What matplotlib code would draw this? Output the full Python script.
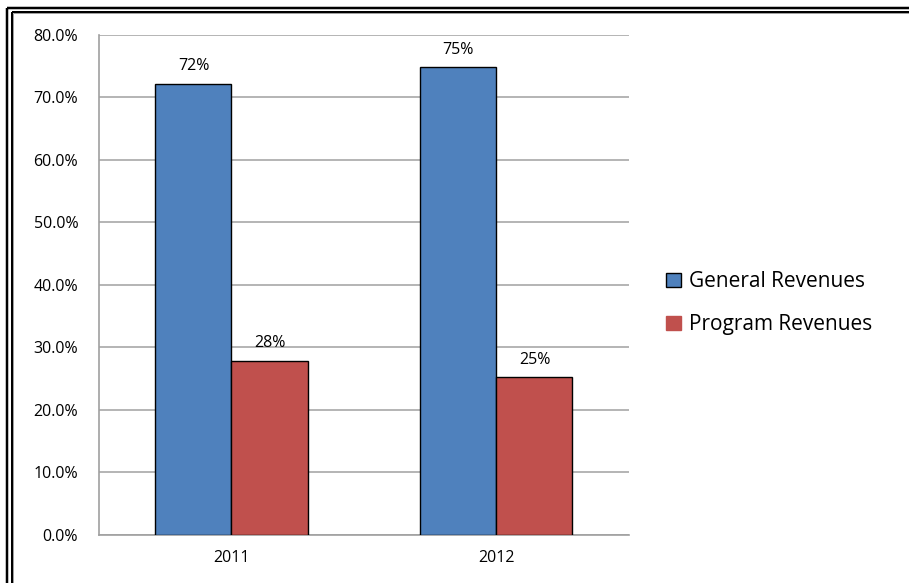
import matplotlib.pyplot as plt
import matplotlib.patches as mpatches
from matplotlib.lines import Line2D
import numpy as np

plt.rcParams['font.family'] = ['Open Sans', 'DejaVu Sans']

years = ['2011', '2012']
general = [72.2, 74.8]
program = [27.8, 25.2]
series_names = ['General Revenues', 'Program Revenues']
colors = ['#4f81bd', '#c0504d']

fig = plt.figure(figsize=(9.09, 5.83), dpi=100)
ax = fig.add_axes([0.1089, 0.0823, 0.583, 0.858])

x = np.arange(len(years))
w = 0.287
bars_g = ax.bar(x - w / 2, general, w, color=colors[0], edgecolor='black', linewidth=1, zorder=3)
bars_p = ax.bar(x + w / 2, program, w, color=colors[1], edgecolor='black', linewidth=1, zorder=3)

# value labels above each bar
for bars, vals in [(bars_g, general), (bars_p, program)]:
    for b, v in zip(bars, vals):
        ax.annotate(f'{v:.0f}%', (b.get_x() + b.get_width() / 2, v),
                    xytext=(0, 7), textcoords='offset points',
                    ha='center', va='bottom', fontsize=11.5)

ax.set_xlim(-0.5, 1.5)
ax.set_ylim(0, 80)
ax.set_yticks(np.arange(0, 81, 10))
ax.set_yticklabels([f'{t:.1f}%' for t in range(0, 81, 10)], fontsize=11.5)
ax.set_xticks(x)
ax.set_xticklabels(years, fontsize=11.5)
ax.tick_params(length=0, pad=15)
ax.tick_params(axis='x', pad=11)
ax.yaxis.grid(True, color='#a0a0a0', linewidth=1.1, zorder=0)
for s in ['top', 'right']:
    ax.spines[s].set_visible(False)
for s in ['left', 'bottom']:
    ax.spines[s].set_color('#a0a0a0')
    ax.spines[s].set_linewidth(1.2)

handles = [mpatches.Patch(facecolor=colors[0], edgecolor='black', linewidth=1),
           mpatches.Patch(facecolor=colors[1], edgecolor=colors[1], linewidth=1)]
fig.legend(handles, series_names, loc='center left', bbox_to_anchor=(0.712, 0.480),
           frameon=False, fontsize=15, handlelength=0.7, handleheight=0.7,
           handletextpad=0.4, labelspacing=1.05)

# double frame on the top and left edges
H, W = 583, 909
for off, lw, col in [(7.5, 2.5, 'black'), (11.5, 2.0, 'black'), (13.2, 1.0, '#a0a0a0')]:
    fig.add_artist(Line2D([off / W, 1], [1 - off / H, 1 - off / H], transform=fig.transFigure,
                          color=col, linewidth=lw * 0.72, solid_capstyle='butt'))
    fig.add_artist(Line2D([off / W, off / W], [0, 1 - off / H], transform=fig.transFigure,
                          color=col, linewidth=lw * 0.72, solid_capstyle='butt'))

fig.savefig('out.png', dpi=100, facecolor='white')
